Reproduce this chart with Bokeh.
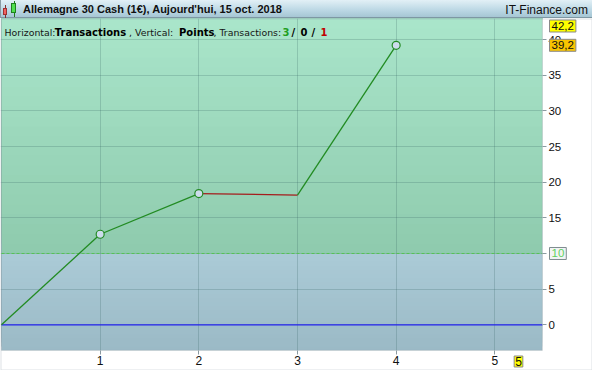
from bokeh.plotting import figure
from bokeh.models import Div, Label, BoxAnnotation, FixedTicker, Range1d
from bokeh.layouts import column
from bokeh.embed import file_html
from bokeh.resources import INLINE

# ---------------- data ----------------
title_text = "Allemagne 30 Cash (1€), Aujourd'hui, 15 oct. 2018"
site_text = "IT-Finance.com"
trade_no = [0, 1, 2, 3, 4]
points = [0.0, 12.7, 18.4, 18.2, 39.2]
y_ticks = [0, 5, 10, 15, 20, 25, 30, 35, 40]
x_ticks = [1, 2, 3, 4, 5]
threshold = 10
y_top_value = 42.2
last_value = 39.2
x_cursor = 5.24
x_cursor_label = "5"
wins, flats, losses = 3, 0, 1

# ---------------- header bar ----------------
header_html = f"""
<div style="position:relative;width:592px;height:18px;overflow:hidden;
 background:linear-gradient(to bottom,#e2f0f6 0%,#b9d6e3 60%,#a6c6d4 94%,#7d97a3 94%);
 font-family:'Liberation Sans',Arial,sans-serif;">
 <span style="position:absolute;left:0;top:0;width:1px;height:18px;background:#8a9ca4"></span>
 <span style="position:absolute;left:5px;top:5px;width:1px;height:13px;background:#803030"></span>
 <span style="position:absolute;left:3px;top:8px;width:4px;height:7px;background:#f06060;border:1px solid #a03030"></span>
 <span style="position:absolute;left:14px;top:1px;width:1px;height:16px;background:#208020"></span>
 <span style="position:absolute;left:11px;top:3px;width:5px;height:10px;background:#50e050;border:1px solid #208020"></span>
 <span style="position:absolute;left:23px;top:2px;font-size:11px;font-weight:bold;color:#101010;white-space:nowrap">{title_text}</span>
 <span style="position:absolute;right:4px;top:2px;font-size:12px;color:#101010;white-space:nowrap">{site_text}</span>
</div>
"""
header = Div(text=header_html, width=592, height=18, margin=0)

# ---------------- figure ----------------
# full canvas is the frame; the chart area is a sub-box of it
x_start, x_end = -0.0102, 5.99
y_start, y_end = -6.41, 42.96
plot_right = 5.482      # right edge of the coloured chart area
plot_bottom = -3.6      # bottom edge of the coloured chart area

p = figure(width=592, height=352, output_backend="svg", toolbar_location=None,
           x_range=Range1d(x_start, x_end), y_range=Range1d(y_start, y_end),
           y_axis_location="right",
           min_border_left=0, min_border_right=0, min_border_top=0, min_border_bottom=0)
p.background_fill_color = "white"
p.border_fill_color = "white"
p.outline_line_color = None


def lerp(c1, c2, t):
    a = [int(c1[i:i + 2], 16) for i in (1, 3, 5)]
    b = [int(c2[i:i + 2], 16) for i in (1, 3, 5)]
    return "#%02x%02x%02x" % tuple(round(a[k] + (b[k] - a[k]) * t) for k in range(3))


n = 24
# blue zone (below threshold)
for i in range(n):
    t = i / n
    b = plot_bottom + (threshold - plot_bottom) * t
    p.add_layout(BoxAnnotation(left=0, right=plot_right, bottom=b, top=None,
                               fill_color=lerp("#9bbac6", "#abcbd7", t), fill_alpha=1,
                               line_color=None, level="image"))
# green zone (above threshold)
for i in range(n):
    t = i / n
    b = threshold + (y_end - threshold) * t
    p.add_layout(BoxAnnotation(left=0, right=plot_right, bottom=b, top=None,
                               fill_color=lerp("#8fcbae", "#aae6cb", t), fill_alpha=1,
                               line_color=None, level="image"))

# grids
p.xgrid.ticker = FixedTicker(ticks=x_ticks)
p.ygrid.ticker = FixedTicker(ticks=y_ticks)
for g in (p.xgrid, p.ygrid):
    g.grid_line_color = "#2d5a5a"
    g.grid_line_alpha = 0.22
    g.grid_line_width = 1

# white masks over the axis areas (drawn after the grid)
p.add_layout(BoxAnnotation(left=plot_right, fill_color="white", fill_alpha=1,
                           line_color=None, level="underlay"))
p.add_layout(BoxAnnotation(top=plot_bottom, fill_color="white", fill_alpha=1,
                           line_color=None, level="underlay"))
# chart-area border
p.add_layout(BoxAnnotation(left=0, right=plot_right, bottom=plot_bottom, fill_color=None,
                           line_color="#7b8c93", line_width=1, level="underlay"))
# outer border
p.add_layout(BoxAnnotation(fill_color=None, line_color="#8a9ca4", line_width=2, level="underlay"))

# axes (pinned to the chart-area edges)
xa = p.xaxis[0]
xa.fixed_location = plot_bottom
xa.ticker = FixedTicker(ticks=x_ticks)
xa.axis_line_color = None
xa.major_tick_line_color = "#8a9aa0"
xa.major_tick_out = 4
xa.major_tick_in = 0
xa.minor_tick_line_color = None
xa.major_label_text_font = "Liberation Sans"
xa.major_label_text_font_size = "12px"
xa.major_label_text_color = "#101010"
xa.major_label_standoff = 2

ya = p.yaxis[0]
ya.fixed_location = plot_right
ya.ticker = FixedTicker(ticks=y_ticks)
ya.axis_line_color = None
ya.major_tick_line_color = "#8a9aa0"
ya.major_tick_out = 4
ya.major_tick_in = 0
ya.minor_tick_line_color = None
ya.major_label_text_font = "Liberation Sans"
ya.major_label_text_font_size = "11.5px"
ya.major_label_text_color = "#101010"
ya.major_label_standoff = 2

# reference lines limited to the chart area
p.segment(x0=[0], y0=[threshold], x1=[plot_right], y1=[threshold],
          line_color="#55c455", line_dash="3 2", line_width=1)
p.segment(x0=[0], y0=[0], x1=[plot_right], y1=[0],
          line_color="#2424f0", line_width=1.2)

# equity curve
seg_colors = ["#228b22" if points[i + 1] >= points[i] else "#a51c1c" for i in range(len(points) - 1)]
p.segment(x0=trade_no[:-1], y0=points[:-1], x1=trade_no[1:], y1=points[1:],
          line_color=seg_colors, line_width=1.3)
mx = [trade_no[i] for i in range(1, len(points)) if points[i] > points[i - 1]]
my = [points[i] for i in range(1, len(points)) if points[i] > points[i - 1]]
p.scatter(x=mx, y=my, marker="circle", size=8, fill_color="#cddcec",
          line_color="#238a23", line_width=1.2)

# subtitle (mixed styles)
sub_y = 338.5
REG = ("DejaVu Sans", "9.4px")
BLD = ("DejaVu Sans", "10px")
segments = [
    (4, "Horizontal:", "normal", "#151515", REG),
    (54.3, "Transactions", "bold", "#000000", BLD),
    (128.5, ", Vertical:", "normal", "#151515", REG),
    (178.5, "Points", "bold", "#000000", BLD),
    (213, ", Transactions:", "normal", "#151515", REG),
    (282, str(wins), "bold", "#1f9f1f", BLD),
    (291, "/", "bold", "#000000", BLD),
    (300, str(flats), "bold", "#000000", BLD),
    (311, "/", "bold", "#000000", BLD),
    (320, str(losses), "bold", "#c00000", BLD),
]
for sx, txt, style, col, (fnt, fsz) in segments:
    p.add_layout(Label(x=sx, y=sub_y, x_units="screen", y_units="screen", text=txt,
                       text_font=fnt, text_font_size=fsz,
                       text_font_style=style, text_color=col,
                       text_align="left", text_baseline="alphabetic"))


# value boxes
def fmt(v):
    return ("%g" % v).replace(".", ",")


box_x = 549
p.add_layout(Label(x=box_x, y=352 - 7.5, x_units="screen", y_units="screen", text=fmt(y_top_value),
                   text_font="Liberation Sans", text_font_size="11.5px", text_color="#101010",
                   text_align="left", text_baseline="middle",
                   background_fill_color="#ffff00", border_line_color="#8a8a8a",
                   padding=2))
p.add_layout(Label(x=box_x, y=last_value, x_units="screen", y_units="data", text=fmt(last_value),
                   text_font="Liberation Sans", text_font_size="11.5px", text_color="#101010",
                   text_align="left", text_baseline="middle",
                   background_fill_color="#f8c400", border_line_color="#8a8a8a",
                   padding=2))
p.add_layout(Label(x=box_x, y=threshold, x_units="screen", y_units="data", text=fmt(threshold),
                   text_font="Liberation Sans", text_font_size="11.5px", text_color="#5fd05f",
                   text_align="left", text_baseline="middle",
                   background_fill_color="#f2f4f4", border_line_color="#7f8c90",
                   padding=2))
p.add_layout(Label(x=x_cursor, y=9, x_units="data", y_units="screen", text=x_cursor_label,
                   text_font="Liberation Sans", text_font_size="12px", text_color="#101010",
                   text_align="center", text_baseline="middle",
                   background_fill_color="#ffff00", border_line_color="#8a8a8a",
                   padding=1))

layout = column(header, p, spacing=0)
open("out.html", "w").write(file_html(layout, INLINE))
